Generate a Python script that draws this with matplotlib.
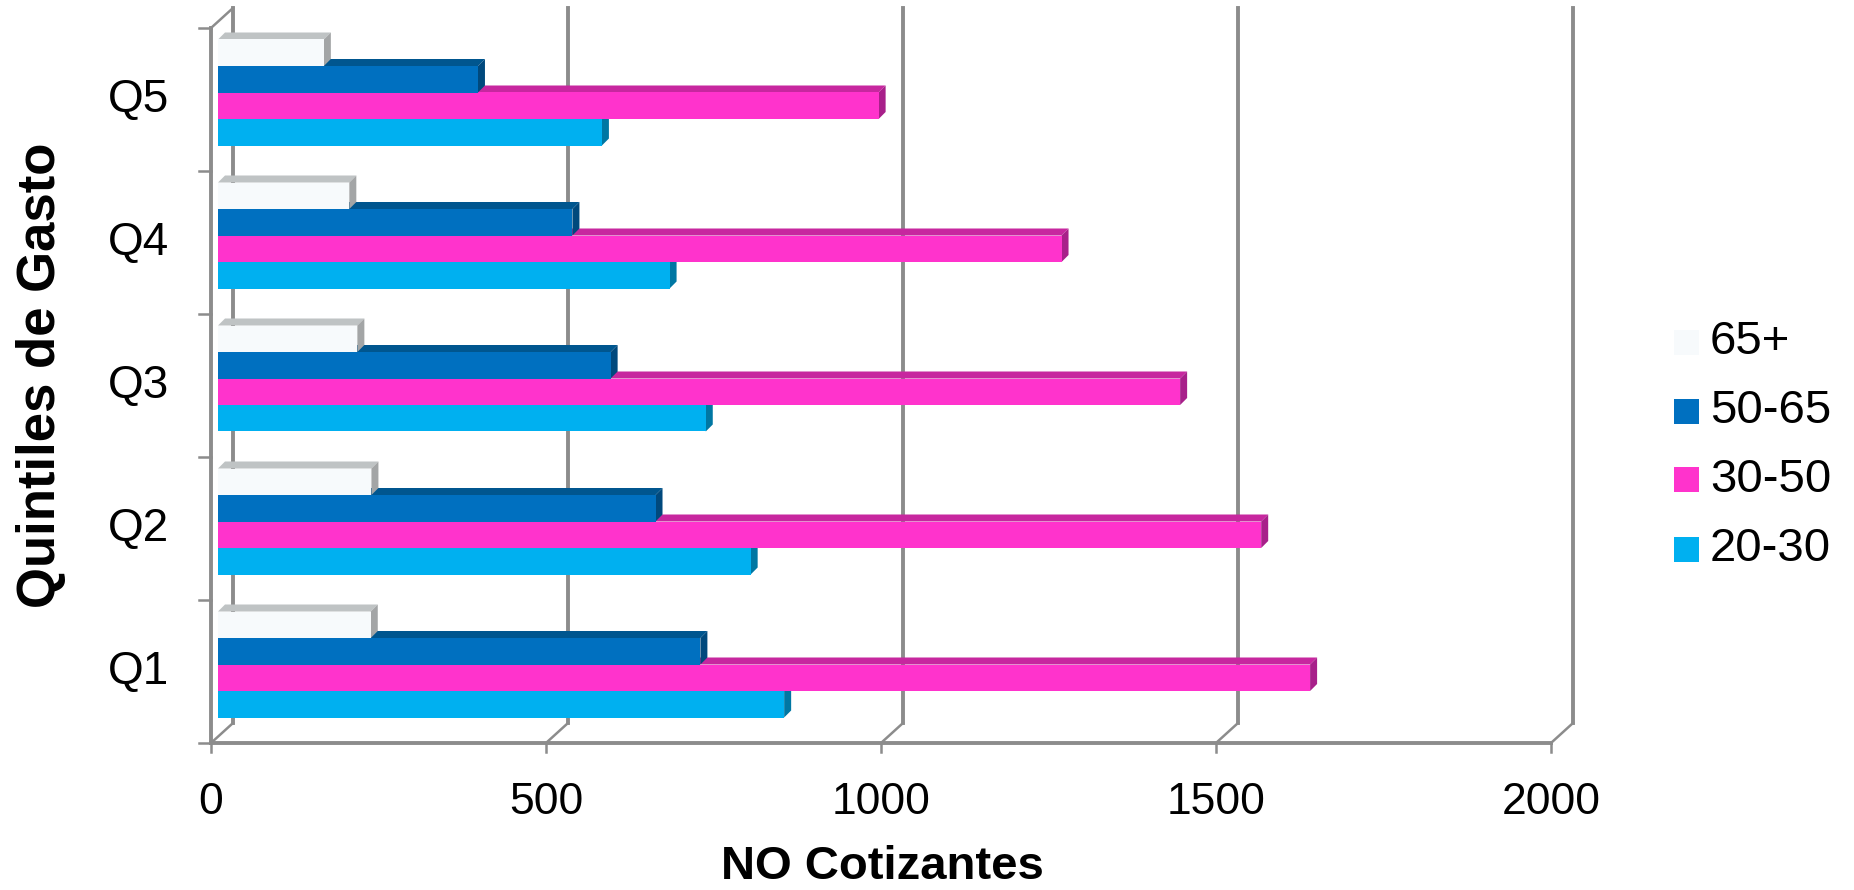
import matplotlib
matplotlib.use('Agg')
import matplotlib.pyplot as plt
from matplotlib.patches import Polygon, Rectangle

plt.rcParams['font.family'] = ['Liberation Sans', 'DejaVu Sans']

quintiles = ['Q1', 'Q2', 'Q3', 'Q4', 'Q5']
# series listed bottom-to-top inside each quintile group
series = ['20-30', '30-50', '50-65', '65+']
v20_30 = [845, 795, 728, 674, 573]
v30_50 = [1630, 1557, 1436, 1259, 986]
v50_65 = [720, 653, 586, 529, 388]
v65 = [228, 229, 208, 196, 158]
xticks = [0, 500, 1000, 1500, 2000]

values = {'20-30': v20_30, '30-50': v30_50, '50-65': v50_65, '65+': v65}
# front, top, side shades
colors = {
    '20-30': ('#00B0F0', '#0089BC', '#0077A3'),
    '30-50': ('#FF33CC', '#C7279F', '#A8208A'),
    '50-65': ('#0070C0', '#00568F', '#00497D'),
    '65+':   ('#F7FAFC', '#BFC3C4', '#A3A5A6'),
}
grid_col = '#8C8C8C'

W, H = 1854, 890
fig = plt.figure(figsize=(W / 100, H / 100), dpi=100)
x0, x1 = 211, 1551      # pixel columns of 0 and 2000 on the front floor
yb, yt = 743, 28        # pixel rows of front floor and front top
ax = fig.add_axes([x0 / W, 1 - yb / H, (x1 - x0) / W, (yb - yt) / H])
ax.set_xlim(0, 2000)
ax.set_ylim(0, 5)
ax.axis('off')

ux = 2000 / (x1 - x0)   # data units per pixel
uy = 5 / (yb - yt)

# box depth and bar placement in depth
DX, DY = 22 * ux, 20 * uy
bx, by = 7 * ux, 7 * uy
ddx, ddy = 7 * ux, 7 * uy
h = 26.5 * uy

lw = 2.8
# back wall gridlines and floor diagonals
for v in xticks:
    ax.plot([v + DX, v + DX], [DY, 5 + DY], color=grid_col, lw=lw, clip_on=False, zorder=1)
    ax.plot([v, v + DX], [0, DY], color=grid_col, lw=1.8, clip_on=False, zorder=1)
    ax.plot([v, v], [0, -9 * uy], color=grid_col, lw=1.8, clip_on=False, zorder=1)
    ax.text(v, -60 * uy, str(v), ha='center', va='center', fontsize=32, clip_on=False)

ax.plot([0, 2000], [0, 0], color=grid_col, lw=lw, clip_on=False, zorder=2)
ax.plot([0, 0], [0, 5], color=grid_col, lw=lw, clip_on=False, zorder=2)
ax.plot([0, DX], [5, 5 + DY], color=grid_col, lw=1.8, clip_on=False, zorder=2)
for i in range(6):
    ax.plot([-12 * ux, 0], [i, i], color=grid_col, lw=1.8, clip_on=False, zorder=2)

# 3D-looking bars: top face, side face, then the front face
for i, q in enumerate(quintiles):
    yc = i + 0.5 + by
    for k, s in enumerate(series):
        y = yc + (k - 1.5) * h
        v = values[s][i]
        front, top, side = colors[s]
        z = 3 + k * 3
        ax.add_patch(Polygon([(bx, y + h / 2), (bx + v, y + h / 2),
                              (bx + v + ddx, y + h / 2 + ddy), (bx + ddx, y + h / 2 + ddy)],
                             closed=True, fc=top, ec='none', zorder=z, clip_on=False))
        ax.add_patch(Polygon([(bx + v, y - h / 2), (bx + v + ddx, y - h / 2 + ddy),
                              (bx + v + ddx, y + h / 2 + ddy), (bx + v, y + h / 2)],
                             closed=True, fc=side, ec='none', zorder=z + 1, clip_on=False))
        ax.barh(y, v, height=h, left=bx, color=front, zorder=z + 2, clip_on=False)
    ax.text(-42 * ux, i + 0.5, q, ha='right', va='center', fontsize=33, clip_on=False)

fig.text(882 / W, 1 - 867 / H, 'NO Cotizantes', ha='center', va='center',
         fontsize=34, fontweight='bold')
fig.text(41 / W, 1 - 375 / H, 'Quintiles de Gasto', ha='center', va='center',
         fontsize=38, fontweight='bold', rotation=90)

# legend, top to bottom
for j, s in enumerate(['65+', '50-65', '30-50', '20-30']):
    cy = 342 + j * 69
    fig.patches.append(Rectangle((1674 / W, 1 - (cy + 12.5) / H), 25 / W, 25 / H,
                                 transform=fig.transFigure, fc=colors[s][0], ec='none'))
    fig.text(1710 / W, 1 - cy / H, s, ha='left', va='center', fontsize=34)

fig.savefig('out.png', dpi=100)
